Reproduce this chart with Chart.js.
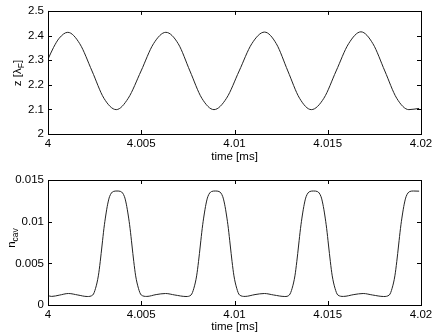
<!DOCTYPE html>
<html>
<head>
<meta charset="utf-8">
<script src="https://cdn.jsdelivr.net/npm/chart.js@4.4.0/dist/chart.umd.min.js"></script>
<style>
  body { margin: 0; background: #fff; }
  canvas { position: absolute; left: 0; }
  #grafTopo { top: 0; }
  #grafBaixo { top: 167px; }
</style>
</head>
<body>
<canvas id="grafTopo" width="436" height="167"></canvas>
<canvas id="grafBaixo" width="436" height="167"></canvas>
<script>
// eixos
const tempoTicks = [4, 4.005, 4.01, 4.015, 4.02];
const tempoLabels = ["4", "4.005", "4.01", "4.015", "4.02"];
const zTicks = [2, 2.1, 2.2, 2.3, 2.4, 2.5];
const zLabels = ["2", "2.1", "2.2", "2.3", "2.4", "2.5"];
const nTicks = [0, 0.005, 0.01, 0.015];
const nLabels = ["0", "0.005", "0.01", "0.015"];

const tempoZ = [
  4.0000, 4.0003, 4.0006, 4.00106, 4.0017, 4.00236, 4.0030, 4.00366,
  4.0043, 4.00499, 4.00566, 4.00632, 4.00698, 4.00761, 4.00825, 4.0089,
  4.00957, 4.01025, 4.01093, 4.01161, 4.01224, 4.01286, 4.01349, 4.01412,
  4.01479, 4.01545, 4.01612, 4.01678, 4.01742, 4.01806, 4.0187, 4.01935, 4.0199
];
const valoresZ = [
  2.304, 2.352, 2.389, 2.413, 2.367, 2.256, 2.145, 2.099,
  2.145, 2.256, 2.367, 2.413, 2.367, 2.256, 2.145, 2.099,
  2.145, 2.256, 2.367, 2.414, 2.367, 2.256, 2.145, 2.099,
  2.145, 2.256, 2.367, 2.415, 2.367, 2.256, 2.145, 2.099, 2.104
];

const tempoN = [
  4.0000, 4.0002, 4.0006, 4.0011, 4.0016, 4.0021,
  4.0024, 4.00255, 4.0027, 4.0028, 4.0029, 4.0030, 4.0031, 4.0032, 4.0033, 4.0035,
  4.0037, 4.0039, 4.0041, 4.0042, 4.0043, 4.0044, 4.0045, 4.0046, 4.0047, 4.00485,
  4.0050, 4.0053, 4.0058, 4.0063, 4.0068, 4.0074,
  4.00767, 4.00782, 4.00797, 4.00807, 4.00817, 4.00827, 4.00837, 4.00847, 4.00857, 4.00877,
  4.00897, 4.00917, 4.00937, 4.00947, 4.00957, 4.00967, 4.00977, 4.00987, 4.00997, 4.01012,
  4.01027, 4.01057, 4.0111, 4.0116, 4.0121, 4.0127,
  4.01294, 4.01309, 4.01324, 4.01334, 4.01344, 4.01354, 4.01364, 4.01374, 4.01384, 4.01404,
  4.01424, 4.01444, 4.01464, 4.01474, 4.01484, 4.01494, 4.01504, 4.01514, 4.01524, 4.01539,
  4.01554, 4.01584, 4.0164, 4.0169, 4.0174, 4.0180,
  4.0183, 4.01845, 4.0186, 4.0187, 4.0188, 4.0189, 4.0190, 4.0191, 4.0192, 4.0194,
  4.0196, 4.0199
];
const valoresN = [
  0.00112, 0.00103, 0.00118, 0.00138, 0.00120, 0.00102,
  0.0012, 0.0020, 0.0035, 0.0052, 0.0072, 0.0092, 0.0108, 0.0121, 0.0130, 0.01362,
  0.01368, 0.01362, 0.0130, 0.0121, 0.0108, 0.0092, 0.0072, 0.0052, 0.0035, 0.0020,
  0.0012, 0.00103, 0.00125, 0.00138, 0.00120, 0.00102,
  0.0012, 0.0020, 0.0035, 0.0052, 0.0072, 0.0092, 0.0108, 0.0121, 0.0130, 0.01362,
  0.01368, 0.01362, 0.0130, 0.0121, 0.0108, 0.0092, 0.0072, 0.0052, 0.0035, 0.0020,
  0.0012, 0.00103, 0.00125, 0.00138, 0.00120, 0.00102,
  0.0012, 0.0020, 0.0035, 0.0052, 0.0072, 0.0092, 0.0108, 0.0121, 0.0130, 0.01362,
  0.01368, 0.01362, 0.0130, 0.0121, 0.0108, 0.0092, 0.0072, 0.0052, 0.0035, 0.0020,
  0.0012, 0.00103, 0.00125, 0.00138, 0.00120, 0.00102,
  0.0012, 0.0020, 0.0035, 0.0052, 0.0072, 0.0092, 0.0108, 0.0121, 0.0130, 0.01362,
  0.01368, 0.01366
];

const fonte = "'Liberation Sans', Arial, Helvetica, sans-serif";
const tamFonte = 11.5;

// caixa estilo matlab, ticks para dentro e rotulo do eixo y com subscrito
const caixaPlugin = {
  id: "caixa",
  afterDraw(chart, args, opts) {
    const ctx = chart.ctx;
    const a = chart.chartArea;
    const sx = chart.scales.x;
    const sy = chart.scales.y;
    const tam = 4;
    ctx.save();
    ctx.strokeStyle = "#000";
    ctx.lineWidth = 1;
    ctx.strokeRect(Math.round(a.left) + 0.5, Math.round(a.top) + 0.5,
      Math.round(a.right - a.left), Math.round(a.bottom - a.top));
    ctx.beginPath();
    sx.ticks.forEach((t) => {
      const px = Math.round(sx.getPixelForValue(t.value)) + 0.5;
      ctx.moveTo(px, a.bottom);
      ctx.lineTo(px, a.bottom - tam);
      ctx.moveTo(px, a.top);
      ctx.lineTo(px, a.top + tam);
    });
    sy.ticks.forEach((t) => {
      const py = Math.round(sy.getPixelForValue(t.value)) + 0.5;
      ctx.moveTo(a.left, py);
      ctx.lineTo(a.left + tam, py);
      ctx.moveTo(a.right, py);
      ctx.lineTo(a.right - tam, py);
    });
    ctx.stroke();

    // rotulo y
    ctx.fillStyle = "#000";
    ctx.textBaseline = "alphabetic";
    ctx.textAlign = "left";
    ctx.translate(opts.x, opts.y);
    ctx.rotate(-Math.PI / 2);
    ctx.font = tamFonte + "px " + fonte;
    const w1 = ctx.measureText(opts.main).width;
    const w3 = ctx.measureText(opts.tail).width;
    ctx.font = "8.5px " + fonte;
    const w2 = ctx.measureText(opts.sub).width;
    let x0 = -(w1 + w2 + w3) / 2;
    ctx.font = tamFonte + "px " + fonte;
    ctx.fillText(opts.main, x0, 0);
    ctx.font = "8.5px " + fonte;
    ctx.fillText(opts.sub, x0 + w1, 3);
    ctx.font = tamFonte + "px " + fonte;
    ctx.fillText(opts.tail, x0 + w1 + w2, 0);
    ctx.restore();
  },
};

function montarGrafico(id, tempos, valores, yTicks, yLabels, yMin, yMax, pad, alturaX, rotulo) {
  const ctx = document.getElementById(id).getContext("2d");
  return new Chart(ctx, {
    type: "line",
    data: {
      datasets: [
        {
          data: tempos.map((t, i) => ({ x: t, y: valores[i] })),
          borderColor: "#222",
          borderWidth: 1,
          pointRadius: 0,
          fill: false,
          cubicInterpolationMode: "monotone",
        },
      ],
    },
    options: {
      responsive: false,
      animation: false,
      devicePixelRatio: 1,
      layout: { padding: pad },
      plugins: {
        legend: { display: false },
        tooltip: { enabled: false },
        caixa: rotulo,
      },
      scales: {
        x: {
          type: "linear",
          min: 4,
          max: 4.02,
          grid: { display: false, drawTicks: false },
          border: { display: false },
          afterBuildTicks: (s) => {
            s.ticks = tempoTicks.map((v) => ({ value: v }));
          },
          afterFit: (s) => {
            s.height = alturaX;
          },
          ticks: {
            autoSkip: false,
            maxRotation: 0,
            padding: 3,
            color: "#000",
            font: { family: fonte, size: tamFonte },
            callback: (v) => tempoLabels[tempoTicks.indexOf(v)],
          },
          title: {
            display: true,
            text: "time [ms]",
            color: "#000",
            padding: 0,
            font: { family: fonte, size: tamFonte },
          },
        },
        y: {
          type: "linear",
          min: yMin,
          max: yMax,
          grid: { display: false, drawTicks: false },
          border: { display: false },
          afterBuildTicks: (s) => {
            s.ticks = yTicks.map((v) => ({ value: v }));
          },
          afterFit: (s) => {
            s.width = 48;
          },
          ticks: {
            padding: 4,
            color: "#000",
            font: { family: fonte, size: tamFonte },
            callback: (v) => yLabels[yTicks.indexOf(v)],
          },
        },
      },
    },
    plugins: [caixaPlugin],
  });
}

montarGrafico("grafTopo", tempoZ, valoresZ, zTicks, zLabels, 2, 2.5,
  { top: 10, right: 15, bottom: 3, left: 0 }, 30,
  { main: "z [\u03bb", sub: "F", tail: "]", x: 21, y: 73 });

montarGrafico("grafBaixo", tempoN, valoresN, nTicks, nLabels, 0, 0.015,
  { top: 13, right: 15, bottom: 0, left: 0 }, 29,
  { main: "n", sub: "cav", tail: "", x: 15, y: 71 });
</script>
</body>
</html>
